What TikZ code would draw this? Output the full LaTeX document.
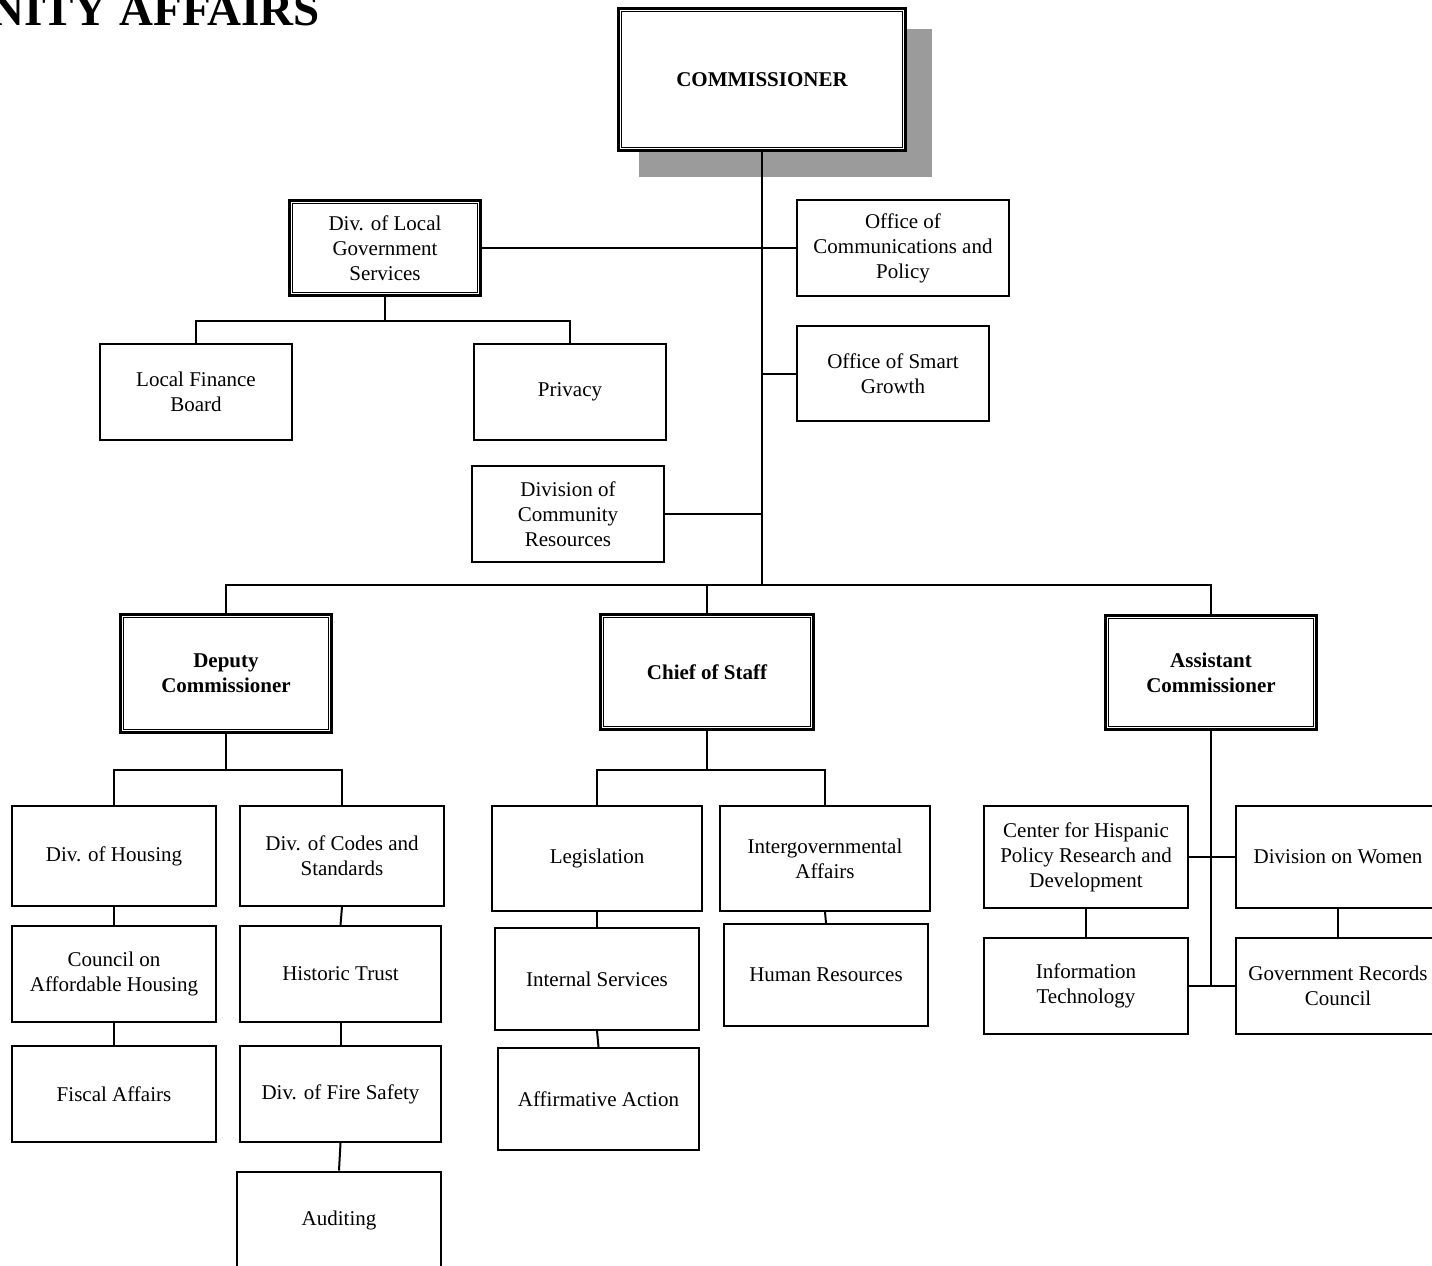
\documentclass[tikz,border=0pt]{standalone}
\usepackage{fontspec}
\setmainfont{Liberation Serif}
\usetikzlibrary{backgrounds}
\definecolor{shadowgray}{RGB}{155,155,155}
\begin{document}
\begin{tikzpicture}[x=1pt,y=-1pt,
  unit/.style={draw, line width=2pt, fill=white, align=center, inner sep=2pt,
    font=\fontsize{21}{25}\selectfont},
  head/.style={unit, line width=2.2pt, font=\fontsize{21}{25}\selectfont\bfseries},
  headplain/.style={head, font=\fontsize{21}{25}\selectfont},
  innerframe/.style={line width=1.4pt},
  link/.style={line width=2pt},
  sz/.style 2 args={minimum width=#1pt, minimum height=#2pt}]
\useasboundingbox (0,0) rectangle (1432,1266);
\clip (0,0) rectangle (1432,1266);

% heading
\node[anchor=base east, inner sep=0pt, font=\fontsize{47}{50}\selectfont\bfseries]
  (title) at (320,25) {NITY AFFAIRS};

% top level
\node[head, sz={287}{142}] (com) at (762,79.5) {COMMISSIONER};

% staff offices
\node[headplain, sz={191}{95}] (dlgs) at (385,248) {Div. of Local\\Government\\Services};
\node[unit, sz={212}{96}] (ocp) at (903,248) {Office of\\Communications and\\Policy};
\node[unit, sz={192}{95}] (osg) at (893,373.5) {Office of Smart\\Growth};
\node[unit, sz={192}{96}] (lfb) at (196,392) {Local Finance\\Board};
\node[unit, sz={192}{96}] (priv) at (570,392) {Privacy};
\node[unit, sz={192}{96}] (dcr) at (568,514) {Division of\\Community\\Resources};

% second level
\node[head, sz={211}{118}] (dep) at (226,673.5) {Deputy\\Commissioner};
\node[head, sz={213}{115}] (cos) at (707,672) {Chief of Staff};
\node[head, sz={211}{114}] (asst) at (1211,672.5) {Assistant\\Commissioner};

% double frames of the heading boxes
\foreach \n in {com,dlgs,dep,cos,asst}
  \draw[innerframe] ([shift={(4.3,4.3)}]\n.north west) rectangle ([shift={(-4.3,-4.3)}]\n.south east);

% deputy commissioner units
\node[unit, sz={204}{100}] (hous) at (114,856) {Div. of Housing};
\node[unit, sz={204}{100}] (codes) at (342,856) {Div. of Codes and\\Standards};
\node[unit, sz={204}{96}] (coah) at (114,974) {Council on\\Affordable Housing};
\node[unit, sz={204}{96}] (fisc) at (114,1094) {Fiscal Affairs};
\node[unit, sz={201}{96}] (hist) at (340.5,974) {Historic Trust};
\node[unit, sz={201}{96}] (fire) at (340.5,1094) {Div. of Fire Safety};
\node[unit, sz={204}{97}] (aud) at (339,1220) {Auditing};

% chief of staff units
\node[unit, sz={210}{105}] (leg) at (597,858.5) {Legislation};
\node[unit, sz={210}{105}] (igov) at (825,858.5) {Intergovernmental\\Affairs};
\node[unit, sz={204}{102}] (ints) at (597,979) {Internal Services};
\node[unit, sz={204}{102}] (hr) at (826,975) {Human Resources};
\node[unit, sz={201}{102}] (aff) at (598.5,1099) {Affirmative Action};

% assistant commissioner units
\node[unit, sz={204}{102}] (chisp) at (1086,857) {Center for Hispanic\\Policy Research and\\Development};
\node[unit, sz={204}{102}] (dow) at (1338,857) {Division on Women};
\node[unit, sz={204}{96}] (it) at (1086,986) {Information\\Technology};
\node[unit, sz={204}{96}] (grc) at (1338,986) {Government Records\\Council};

% bus coordinates
\coordinate (bus) at (762,585);
\coordinate (lgbar) at (385,321);
\coordinate (depbar) at (226,770);
\coordinate (cosbar) at (707,770);

\begin{pgfonlayer}{background}
  \fill[shadowgray] ([shift={(22,22)}]com.north west) rectangle ([shift={(25,25)}]com.south east);
  \draw[link] (com.south) -- (bus);
  \draw[link] (dlgs.east) -- (dlgs.east -| com.south);
  \draw[link] (ocp.west) -- (ocp.west -| com.south);
  \draw[link] (osg.west) -- (osg.west -| com.south);
  \draw[link] (dcr.east) -- (dcr.east -| com.south);
  \draw[link] (dlgs.south) -- (lgbar);
  \draw[link] (lfb.north) |- (lgbar) -| (priv.north);
  \draw[link] (dep.north) |- (bus) -| (asst.north);
  \draw[link] (cos.north) -- (cos.north |- bus);
  \draw[link] (dep.south) -- (depbar);
  \draw[link] (hous.north) |- (depbar) -| (codes.north);
  \draw[link] (hous.south) -- (coah.north);
  \draw[link] (coah.south) -- (fisc.north);
  \draw[link] (codes.south) -- (hist.north);
  \draw[link] (hist.south) -- (fire.north);
  \draw[link] (fire.south) -- (aud.north);
  \draw[link] (cos.south) -- (cosbar);
  \draw[link] (leg.north) |- (cosbar) -| (igov.north);
  \draw[link] (leg.south) -- (ints.north);
  \draw[link] (ints.south) -- (aff.north);
  \draw[link] (igov.south) -- (hr.north);
  \draw[link] (asst.south) -- (asst.south |- it.east);
  \draw[link] (chisp.east) -- (dow.west);
  \draw[link] (it.east) -- (grc.west);
  \draw[link] (chisp.south) -- (it.north);
  \draw[link] (dow.south) -- (grc.north);
\end{pgfonlayer}
\end{tikzpicture}
\end{document}
